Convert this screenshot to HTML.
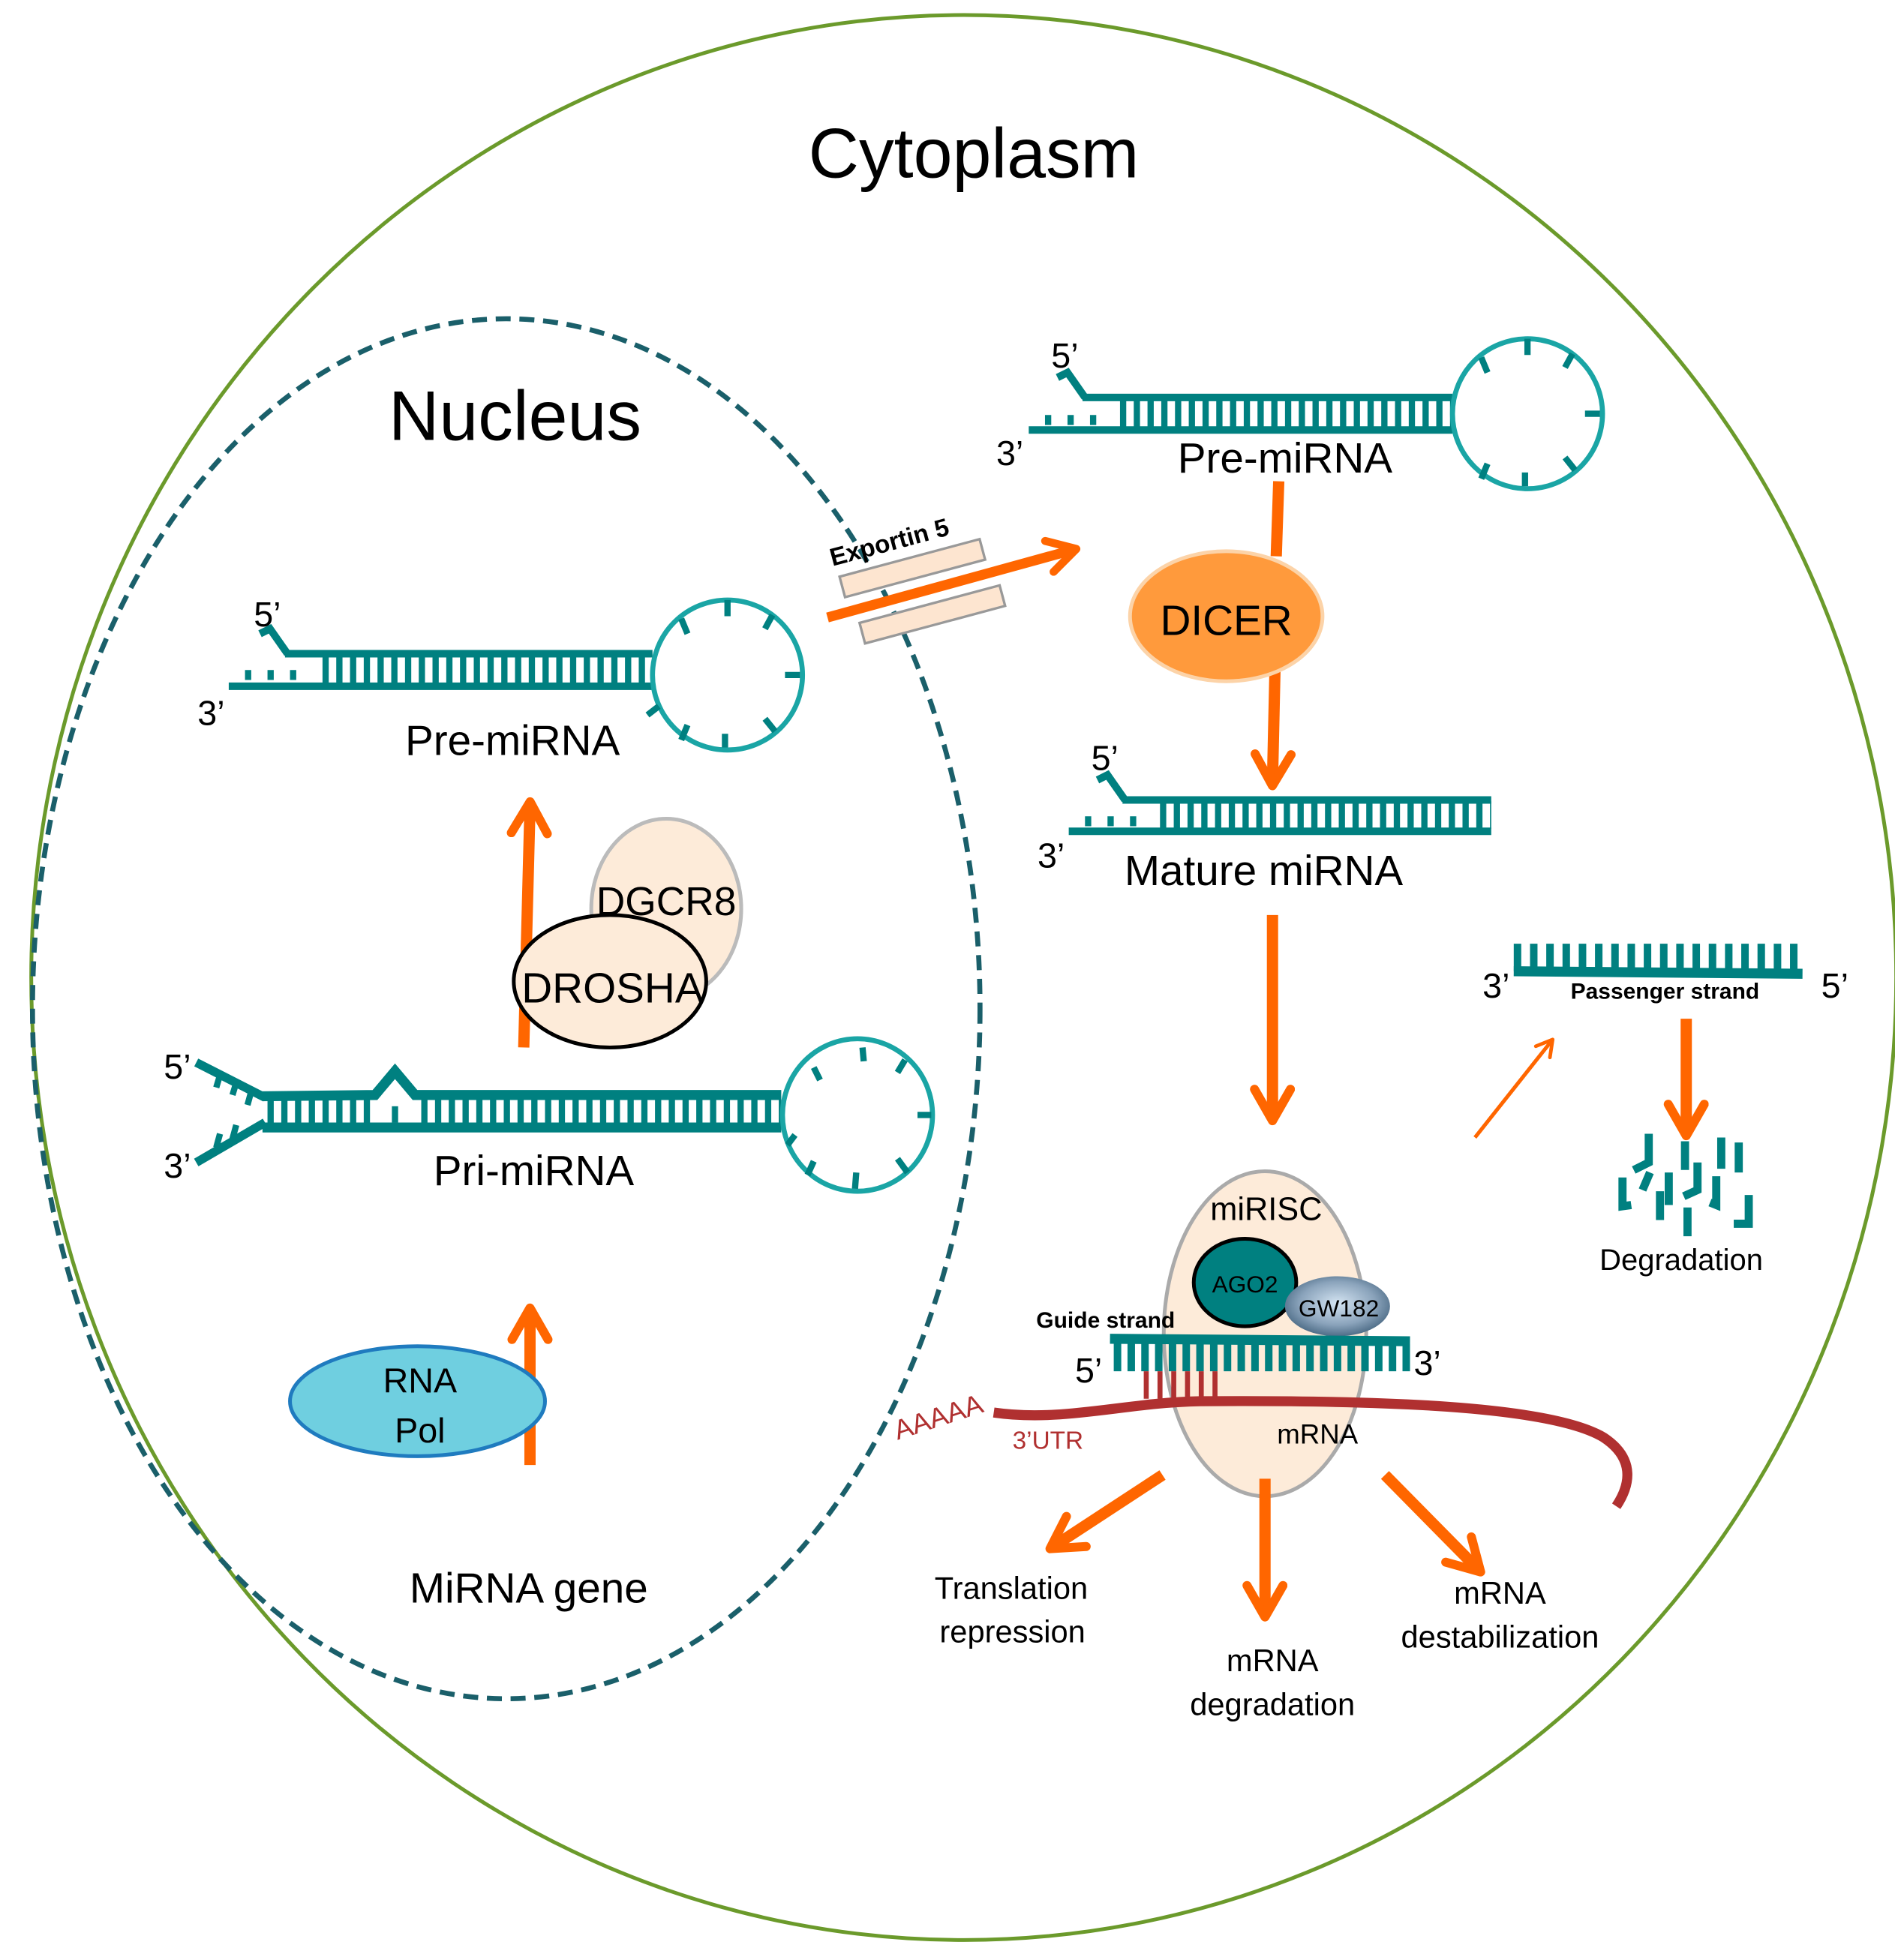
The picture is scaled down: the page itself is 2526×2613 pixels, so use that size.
<!DOCTYPE html>
<html><head><meta charset="utf-8"><style>html,body{margin:0;padding:0;background:#fff}svg{display:block}text{font-family:"Liberation Sans",sans-serif}</style></head>
<body>
<svg width="2526" height="2613" viewBox="0 0 1516 1568" preserveAspectRatio="none" xmlns="http://www.w3.org/2000/svg">
<defs>
<radialGradient id="gw" cx="50%" cy="45%" r="60%"><stop offset="0" stop-color="#d4e4f2"/><stop offset="0.6" stop-color="#8aa3bb"/><stop offset="1" stop-color="#3f5f7a"/></radialGradient>
<marker id="ah" viewBox="0 0 10 10" refX="7" refY="5" markerWidth="4" markerHeight="4" orient="auto"><path d="M1,1 L8,5 L1,9" fill="none" stroke="#ff6600" stroke-width="2" stroke-linecap="round" stroke-linejoin="round"/></marker>
<marker id="ah2" viewBox="0 0 10 10" refX="7" refY="5" markerWidth="6" markerHeight="6" orient="auto"><path d="M1,1 L8,5 L1,9" fill="none" stroke="#ff6600" stroke-width="1.6" stroke-linecap="round" stroke-linejoin="round"/></marker>
</defs>
<rect width="1516" height="1568" fill="#fff"/>
<ellipse cx="771" cy="782" rx="746" ry="770" fill="none" stroke="#6b9a2b" stroke-width="3"/>
<text x="779" y="142" font-size="56" text-anchor="middle">Cytoplasm</text>
<ellipse cx="405" cy="807" rx="379" ry="552" fill="none" stroke="#1a5f6a" stroke-width="4" stroke-dasharray="12 7"/>
<text x="412" y="352" font-size="56" text-anchor="middle">Nucleus</text>

<g stroke="#008080" fill="none">
<line x1="228" y1="523" x2="522" y2="523" stroke-width="6"/>
<line x1="183" y1="549" x2="522" y2="549" stroke-width="6"/>
<line x1="258" y1="536" x2="522" y2="536" stroke-width="22" stroke-dasharray="5 6"/>
<line x1="196" y1="540" x2="245" y2="540" stroke-width="8" stroke-dasharray="5 13"/>
<path d="M208,507 L216,503 L230,523" stroke-width="6"/>
<line x1="866" y1="318" x2="1162" y2="318" stroke-width="6"/>
<line x1="823" y1="344" x2="1162" y2="344" stroke-width="6"/>
<line x1="896" y1="331" x2="1162" y2="331" stroke-width="22" stroke-dasharray="5 6"/>
<line x1="836" y1="336" x2="885" y2="336" stroke-width="8" stroke-dasharray="5 13"/>
<path d="M846,302 L854,298 L868,318" stroke-width="6"/>
<line x1="898" y1="640" x2="1193" y2="640" stroke-width="6"/>
<line x1="855" y1="665" x2="1193" y2="665" stroke-width="6"/>
<line x1="928" y1="652" x2="1193" y2="652" stroke-width="22" stroke-dasharray="5 6"/>
<line x1="868" y1="657" x2="917" y2="657" stroke-width="8" stroke-dasharray="5 13"/>
<path d="M878,624 L886,620 L900,640" stroke-width="6"/>
<path d="M210,877 L300,876 L316,857 L332,876 L625,876" stroke-width="8"/>
<line x1="210" y1="902" x2="625" y2="902" stroke-width="8"/>
<line x1="214" y1="889" x2="300" y2="889" stroke-width="18" stroke-dasharray="5 6"/>
<line x1="337" y1="889" x2="625" y2="889" stroke-width="18" stroke-dasharray="5 6"/>
<line x1="316" y1="885" x2="316" y2="898" stroke-width="5"/>
<path d="M157,850 L212,878" stroke-width="7"/>
<path d="M157,930 L212,898" stroke-width="7"/>
<path d="M176,860 L173,870 M189,866 L186,876 M201,873 L198,884" stroke-width="5"/>
<path d="M173,918 L176,907 M186,911 L189,900" stroke-width="5"/>
<line x1="1211" y1="777" x2="1442" y2="779" stroke-width="8"/>
<line x1="1211" y1="766" x2="1442" y2="766" stroke-width="22" stroke-dasharray="6 7"/>
<g stroke-width="6.5">
<path d="M1319,907 V930 L1307,936"/>
<path d="M1348,913 V936"/>
<path d="M1377,910 V935"/>
<path d="M1391,914 V938"/>
<path d="M1320,938 L1314,952"/>
<path d="M1298,942 V965 L1305,964"/>
<path d="M1335,938 V964"/>
<path d="M1328,953 V976"/>
<path d="M1358,930 V952 L1347,957"/>
<path d="M1373,941 V964 L1368,962"/>
<path d="M1350,966 V989"/>
<path d="M1399,956 V979 L1387,979"/>
</g>
</g>
<g fill="none" stroke="#1aa5a5" stroke-width="4">
<circle cx="582" cy="540" r="60"/><circle cx="1222" cy="331" r="60"/><ellipse cx="686" cy="892" rx="60" ry="61"/>
</g>
<g stroke="#008080" stroke-width="5">
<path d="M545,495 L550,507 M582,480 L582,493 M618,492 L612,503 M628,540 L640,540 M612,575 L620,585 M580,587 L580,598 M550,580 L545,592 M527,565 L518,572"/>
<path d="M1185,286 L1190,298 M1222,271 L1222,284 M1258,283 L1252,294 M1268,331 L1280,331 M1252,366 L1260,376 M1220,378 L1220,389 M1190,371 L1185,383"/>
<path d="M651,854 L656,864 M690,838 L691,849 M724,848 L718,858 M734,892 L745,892 M718,927 L726,938 M685,938 L684,951 M651,929 L646,940 M636,908 L630,916"/>
</g>
<g font-size="34" fill="#000">
<text x="410" y="604" text-anchor="middle">Pre-miRNA</text>
<text x="1028" y="378" text-anchor="middle">Pre-miRNA</text>
<text x="1011" y="708" text-anchor="middle">Mature miRNA</text>
<text x="427" y="948" text-anchor="middle">Pri-miRNA</text>
<text x="423" y="1282" text-anchor="middle">MiRNA gene</text>
</g>
<g font-size="28">
<text x="203" y="501">5’</text><text x="158" y="580">3’</text>
<text x="841" y="294">5’</text><text x="797" y="372">3’</text>
<text x="873" y="616">5’</text><text x="830" y="694">3’</text>
<text x="131" y="863">5’</text><text x="131" y="942">3’</text>
<text x="1186" y="798">3’</text><text x="1457" y="798">5’</text>
<text x="860" y="1106">5’</text><text x="1131" y="1100">3’</text>
</g>
<text x="1332" y="799" font-size="18" font-weight="bold" text-anchor="middle">Passenger strand</text>
<ellipse cx="533" cy="727" rx="60" ry="72" fill="#fdebd9" stroke="#bbb" stroke-width="3"/>
<text x="533" y="732" font-size="32" text-anchor="middle">DGCR8</text>
<line x1="419" y1="838" x2="424" y2="645" stroke="#ff6600" stroke-width="9" marker-end="url(#ah)"/>
<ellipse cx="488" cy="785" rx="77" ry="53" fill="#fdebd9" stroke="#000" stroke-width="3"/>
<text x="490" y="802" font-size="34" text-anchor="middle">DROSHA</text>
<line x1="424" y1="1172" x2="424" y2="1050" stroke="#ff6600" stroke-width="9" marker-end="url(#ah)"/>
<ellipse cx="334" cy="1121" rx="102" ry="44" fill="#6fcfe0" stroke="#1f7bbf" stroke-width="3"/>
<text x="336" y="1114" font-size="28" text-anchor="middle">RNA</text>
<text x="336" y="1154" font-size="28" text-anchor="middle">Pol</text>
<g transform="rotate(-15 730 455)"><rect x="672" y="446" width="116" height="17" fill="#fde5d0" stroke="#999" stroke-width="2"/></g>
<g transform="rotate(-15 746 492)"><rect x="688" y="483" width="116" height="17" fill="#fde5d0" stroke="#999" stroke-width="2"/></g>
<text x="0" y="0" font-size="20" font-weight="bold" transform="translate(666,453) rotate(-15)">Exportin 5</text>
<line x1="662" y1="494" x2="858" y2="440" stroke="#ff6600" stroke-width="8" marker-end="url(#ah)"/>
<line x1="1023" y1="385" x2="1021" y2="445" stroke="#ff6600" stroke-width="9"/>
<line x1="1020" y1="535" x2="1018" y2="625" stroke="#ff6600" stroke-width="9" marker-end="url(#ah)"/>
<ellipse cx="981" cy="493" rx="77" ry="52" fill="#ff9a3c" stroke="#fcd3a8" stroke-width="3"/>
<text x="981" y="508" font-size="34" text-anchor="middle">DICER</text>
<line x1="1018" y1="732" x2="1018" y2="893" stroke="#ff6600" stroke-width="9" marker-end="url(#ah)"/>
<line x1="1180" y1="910" x2="1241" y2="833" stroke="#ff6600" stroke-width="3" marker-end="url(#ah2)"/>
<line x1="1349" y1="815" x2="1349" y2="905" stroke="#ff6600" stroke-width="9" marker-end="url(#ah)"/>
<text x="1345" y="1016" font-size="24" text-anchor="middle">Degradation</text>
<ellipse cx="1012" cy="1067" rx="81" ry="130" fill="#fdebd9" stroke="#aaa" stroke-width="3"/>
<text x="1013" y="976" font-size="26" text-anchor="middle">miRISC</text>
<ellipse cx="996" cy="1026" rx="41" ry="35" fill="#008080" stroke="#000" stroke-width="3"/>
<text x="996" y="1034" font-size="19" text-anchor="middle">AGO2</text>
<ellipse cx="1070" cy="1045" rx="42" ry="24" fill="url(#gw)"/>
<text x="1071" y="1053" font-size="19" text-anchor="middle">GW182</text>
<text x="829" y="1062" font-size="18" font-weight="bold">Guide strand</text>
<g stroke="#008080" fill="none">
<line x1="888" y1="1071" x2="1128" y2="1073" stroke-width="8"/>
<line x1="891" y1="1086" x2="1128" y2="1086" stroke-width="22" stroke-dasharray="6 5"/>
</g>
<line x1="915" y1="1108" x2="980" y2="1108" stroke="#b03030" stroke-width="22" stroke-dasharray="4 7"/>
<path d="M795,1130 C850,1138 900,1122 960,1121 C1100,1120 1240,1124 1283,1150 C1310,1168 1303,1190 1293,1205" fill="none" stroke="#b03030" stroke-width="8"/>
<text x="0" y="0" font-size="22" fill="#b03030" transform="translate(718,1152) rotate(-18)">AAAAA</text>
<text x="810" y="1159" font-size="20" fill="#b03030">3’UTR</text>
<text x="1054" y="1155" font-size="22" text-anchor="middle">mRNA</text>
<line x1="930" y1="1180" x2="843" y2="1237" stroke="#ff6600" stroke-width="9" marker-end="url(#ah)"/>
<line x1="1012" y1="1183" x2="1012" y2="1290" stroke="#ff6600" stroke-width="9" marker-end="url(#ah)"/>
<line x1="1108" y1="1180" x2="1182" y2="1255" stroke="#ff6600" stroke-width="9" marker-end="url(#ah)"/>
<g font-size="25" text-anchor="middle">
<text x="809" y="1279">Translation</text><text x="810" y="1314">repression</text>
<text x="1018" y="1337">mRNA</text><text x="1018" y="1372">degradation</text>
<text x="1200" y="1283">mRNA</text><text x="1200" y="1318">destabilization</text>
</g>
</svg>
</body></html>
